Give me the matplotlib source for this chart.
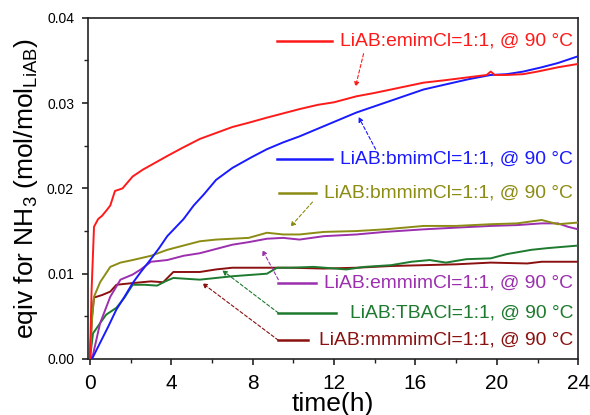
import matplotlib
matplotlib.use("Agg")
import matplotlib.pyplot as plt
from matplotlib.ticker import MultipleLocator

plt.rcParams['font.family'] = ['Liberation Sans', 'DejaVu Sans']
plt.rcParams['mathtext.fontset'] = 'custom'
plt.rcParams['mathtext.rm'] = 'Liberation Sans'
plt.rcParams['mathtext.it'] = 'Liberation Sans:italic'

# ---------------- data ----------------
t_emim = [0, 0.08, 0.2, 0.4, 0.6, 0.84, 1.0, 1.23, 1.6, 2.1, 2.6, 3.2, 3.8, 4.5, 5.4, 6.2, 7.0,
          7.8, 8.7, 9.5, 10.3, 11.2, 12.0, 13.1, 14.0, 15.0, 16.4, 17.5, 18.5, 19.5, 19.7, 19.9,
          20.5, 21.3, 22.0, 23.0, 24.0]
v_emim = [0, 0.008, 0.0155, 0.0164, 0.0168, 0.0175, 0.0180, 0.0197, 0.0200, 0.0214, 0.0222,
          0.0230, 0.0238, 0.0247, 0.0258, 0.0265, 0.0272, 0.0277, 0.0283, 0.0288, 0.0293, 0.0298,
          0.0301, 0.0308, 0.0312, 0.0317, 0.0324, 0.0327, 0.0330, 0.0333, 0.0337, 0.0333, 0.0333,
          0.0334, 0.0337, 0.0342, 0.0346]

t_bmim = [0, 0.1, 0.5, 0.9, 1.3, 1.7, 2.1, 2.5, 2.96, 3.4, 3.8, 4.2, 4.6, 5.1, 5.6, 6.2, 7.0,
          7.9, 8.7, 9.5, 10.3, 11.2, 12.0, 13.1, 14.2, 15.3, 16.4, 17.5, 18.6, 19.7, 20.5, 21.3,
          22.2, 23.0, 24.0]
v_bmim = [0, 0.0, 0.0019, 0.0038, 0.0058, 0.0073, 0.0089, 0.0102, 0.0116, 0.0130, 0.0144,
          0.0154, 0.0164, 0.0180, 0.0193, 0.0210, 0.0224, 0.0236, 0.0246, 0.0254, 0.0261,
          0.0270, 0.0278, 0.0289, 0.0298, 0.0307, 0.0316, 0.0322, 0.0328, 0.0333, 0.0334,
          0.0337, 0.0342, 0.0347, 0.0355]

t_bmmim = [0, 0.08, 0.2, 0.5, 1.0, 1.5, 2.1, 3.0, 3.8, 4.6, 5.4, 6.2, 7.0, 7.8, 8.7, 9.5, 10.3,
           11.5, 13.1, 14.5, 16.4, 18.0, 19.7, 21.0, 22.2, 23.0, 24.0]
v_bmmim = [0, 0.004, 0.0073, 0.0090, 0.0108, 0.0113, 0.0116, 0.0121, 0.0128, 0.0133, 0.0138,
           0.0140, 0.0141, 0.0142, 0.0148, 0.0146, 0.0146, 0.0149, 0.0150, 0.0152, 0.0156,
           0.0156, 0.0158, 0.0159, 0.0163, 0.0158, 0.0160]

t_emmim = [0, 0.15, 0.5, 1.0, 1.5, 2.1, 2.5, 3.0, 3.8, 4.6, 5.4, 6.2, 7.0, 7.8, 8.7, 9.5, 10.3,
           11.5, 13.1, 14.5, 16.4, 18.0, 19.7, 21.0, 22.2, 23.0, 23.5, 24.0]
v_emmim = [0, 0.0005, 0.0042, 0.0073, 0.0093, 0.0099, 0.0105, 0.0114, 0.0116, 0.0121, 0.0124,
           0.0129, 0.0134, 0.0137, 0.0141, 0.0142, 0.0140, 0.0144, 0.0146, 0.0149, 0.0152,
           0.0154, 0.0156, 0.0157, 0.0159, 0.0159, 0.0155, 0.0152]

t_tba = [0, 0.15, 0.5, 0.8, 1.3, 1.7, 2.1, 2.7, 3.3, 3.7, 4.1, 5.4, 6.2, 7.0, 8.7, 9.2, 9.85,
         11.0, 12.6, 13.5, 14.8, 15.8, 16.7, 17.5, 18.5, 19.7, 20.5, 21.7, 22.5, 24.0]
v_tba = [0, 0.0030, 0.0042, 0.0052, 0.0060, 0.0072, 0.0087, 0.0087, 0.0086, 0.0091, 0.0095,
         0.0093, 0.0095, 0.0097, 0.0100, 0.0107, 0.0107, 0.0108, 0.0105, 0.0108, 0.0110,
         0.0114, 0.0116, 0.0113, 0.0117, 0.0118, 0.0123, 0.0128, 0.0130, 0.0133]

t_mmmim = [0, 0.1, 0.2, 0.6, 1.0, 1.3, 2.1, 3.0, 3.6, 4.1, 5.4, 6.2, 7.0, 8.7, 9.85, 11.5, 13.1,
           14.8, 16.4, 18.0, 19.7, 21.5, 22.2, 24.0]
v_mmmim = [0, 0.005, 0.0072, 0.0075, 0.0079, 0.0087, 0.0089, 0.0091, 0.0090, 0.0102, 0.0102,
           0.0105, 0.0107, 0.0107, 0.0107, 0.0106, 0.0107, 0.0109, 0.0110, 0.0111, 0.0113,
           0.0112, 0.0114, 0.0114]

labels = ["LiAB:emimCl=1:1, @ 90 °C", "LiAB:bmimCl=1:1, @ 90 °C", "LiAB:bmmimCl=1:1, @ 90 °C",
          "LiAB:emmimCl=1:1, @ 90 °C", "LiAB:TBACl=1:1, @ 90 °C", "LiAB:mmmimCl=1:1, @ 90 °C"]
colors = ['#ff1a1a', '#1a1aff', '#8c8c14', '#9b2fae', '#1e7a2e', '#8b1010']
xticks = [0, 4, 8, 12, 16, 20, 24]
yticks = [0.00, 0.01, 0.02, 0.03, 0.04]
ytick_labels = ['0.00', '0.01', '0.02', '0.03', '0.04']

series_t = [t_emim, t_bmim, t_bmmim, t_emmim, t_tba, t_mmmim]
series_v = [v_emim, v_bmim, v_bmmim, v_emmim, v_tba, v_mmmim]

# ---------------- layout (annotation placement) ----------------
lab_y = [0.0373, 0.0234, 0.0195, 0.0089, 0.0054, 0.0022]
line_x0 = [9.2, 9.2, 9.3, 9.26, 9.26, 9.26]
line_x1 = [11.9, 11.9, 11.1, 11.1, 12.1, 10.7]
arr_from = [(13.45, 0.0358), (14.04, 0.0246), (10.94, 0.0184), (9.26, 0.0093), (9.26, 0.0054), (9.26, 0.0022)]
arr_to = [(13.05, 0.0319), (13.2, 0.0284), (9.85, 0.0155), (8.47, 0.0128), (6.5, 0.0104), (5.52, 0.0089)]

fig = plt.figure(figsize=(5.9, 4.15), dpi=100)
ax = fig.add_axes([0.149, 0.135, 0.831, 0.822])

order = [5, 4, 3, 2, 1, 0]
for i in order:
    ax.plot(series_t[i], series_v[i], color=colors[i], lw=1.4, zorder=3)

for i in range(6):
    ax.plot([line_x0[i], line_x1[i]], [lab_y[i], lab_y[i]], color=colors[i], lw=1.8, zorder=4)
    ax.text(23.75, lab_y[i], labels[i], color=colors[i], fontsize=13.9,
            ha='right', va='center', zorder=5)
    ax.annotate('', xy=arr_to[i], xytext=arr_from[i],
                arrowprops=dict(arrowstyle='-|>', color=colors[i], lw=0.8,
                                linestyle=(0, (3, 2)), mutation_scale=7,
                                shrinkA=0, shrinkB=0), zorder=5)

ax.set_xlim(-0.1, 24)
ax.set_ylim(0, 0.04)
ax.set_xticks(xticks)
ax.set_yticks(yticks)
ax.set_yticklabels(ytick_labels)
ax.xaxis.set_minor_locator(MultipleLocator(2))
ax.yaxis.set_minor_locator(MultipleLocator(0.005))
ax.tick_params(axis='both', which='major', direction='out', length=4.5, width=1.2, color='#222222')
ax.tick_params(axis='both', which='minor', direction='out', length=2.6, width=1.0, color='#222222')
ax.tick_params(axis='x', which='major', labelsize=15, pad=6.5)
ax.tick_params(axis='y', which='major', labelsize=10, pad=5.5)
for s in ax.spines.values():
    s.set_linewidth(1.2)
    s.set_color('#222222')

ax.set_xlabel('time(h)', fontsize=19, labelpad=-1)
ax.set_ylabel(r'eqiv for NH$_3$ (mol/mol$_{\mathrm{LiAB}}$)', fontsize=19, labelpad=5)

fig.savefig('out.png', dpi=100)
